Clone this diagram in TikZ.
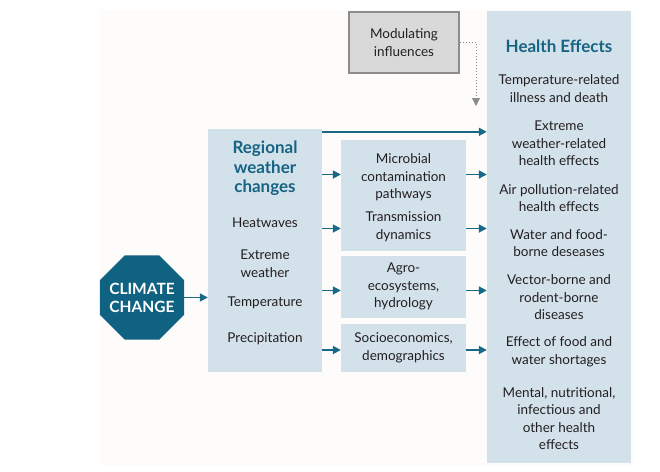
\documentclass[tikz,border=0pt]{standalone}
\usepackage{fontspec}
\setmainfont{Lato}
\usepackage{xcolor}
\usepackage{tikz}
\usetikzlibrary{shapes.geometric}
\usetikzlibrary{arrows.meta}
\definecolor{paleblue}{RGB}{211,225,235}
\definecolor{headteal}{RGB}{22,99,131}
\definecolor{arrowteal}{RGB}{24,104,136}
\definecolor{octteal}{RGB}{16,98,130}
\definecolor{inkgray}{RGB}{35,31,32}
\definecolor{modfill}{RGB}{217,217,217}
\definecolor{modline}{RGB}{140,140,140}
\definecolor{offwhite}{RGB}{253,252,250}

\begin{document}
\begin{tikzpicture}[x=1pt,y=-1pt,
    box/.style={fill=paleblue,inner sep=0pt},
    txt/.style={align=center,text=inkgray,inner sep=0pt,font=\fontsize{13.5}{17.5}\selectfont},
    head/.style={align=center,text=headteal,inner sep=0pt,font=\bfseries\fontsize{17}{19.5}\selectfont},
    arr/.style={draw=arrowteal,line width=1.7pt,-{Triangle[length=8pt,width=8pt]}}]
            \useasboundingbox (0,0) rectangle (660,471);
            \fill[offwhite] (100,10) rectangle (633,466);
            % boxes
            \node[draw=modline,line width=1.5pt,fill=modfill,minimum width=110pt,minimum height=61pt,txt] (mod) at (404,42.5) {Modulating\\influences};
            \node[box,minimum width=114pt,minimum height=243pt] (reg) at (265,250.5) {};
            \node[box,minimum width=125pt,minimum height=111pt] (mid1) at (403.5,195.5) {};
            \node[box,minimum width=125pt,minimum height=62pt] (mid2) at (403.5,287) {};
            \node[box,minimum width=125pt,minimum height=48pt] (mid3) at (403.5,348) {};
            \node[box,minimum width=144pt,minimum height=452pt] (health) at (559,237) {};
            \node[regular polygon,regular polygon sides=8,fill=octteal,minimum size=91pt,inner sep=0pt] (cc) at (142,297.5) {};
            \node[text=white,align=center,inner sep=0pt,font=\bfseries\fontsize{15.5}{18}\selectfont] (cclabel) at (cc) {CLIMATE\\CHANGE};
            % texts
            \node[head] (reghead) at (265,168.5) {Regional\\weather\\changes};
            \node[txt] (heat) at (265,223) {Heatwaves};
            \node[txt] (extr) at (265,263.5) {Extreme\\weather};
            \node[txt] (temp) at (265,303) {Temperature};
            \node[txt] (prec) at (265,339) {Precipitation};
            \node[txt] (mic) at (403.5,177.5) {Microbial\\contamination\\pathways};
            \node[txt] (trans) at (403.5,226.5) {Transmission\\dynamics};
            \node[txt] (agro) at (403.5,286.5) {Agro-\\ecosystems,\\hydrology};
            \node[txt] (socio) at (403.5,348) {Socioeconomics,\\demographics};
            \node[head] (hhead) at (559,46) {Health Effects};
            \node[txt] (h1) at (559,88.5) {Temperature-related\\illness and death};
            \node[txt] (h2) at (559,143.5) {Extreme\\weather-related\\health effects};
            \node[txt] (h3) at (559,198) {Air pollution-related\\health effects};
            \node[txt] (h4) at (559,243) {Water and food-\\borne deseases};
            \node[txt] (h5) at (559,297.5) {Vector-borne and\\rodent-borne\\diseases};
            \node[txt] (h6) at (559,352) {Effect of food and\\water shortages};
            \node[txt] (h7) at (559,418.5) {Mental, nutritional,\\infectious and\\other health\\effects};
            % arrows
            \coordinate (topstart) at ([yshift=-3pt]reg.north east);
            \coordinate (modend) at (476,106);
            \draw[arr] (topstart) -- (topstart -| health.west);
            \draw[arr] (cc.east) -- (reg.west |- cc.east);
            \draw[arr] ([yshift=3pt]reg.east |- mic) -- ([yshift=3pt]mid1.west |- mic);
            \draw[arr] ([yshift=3pt]mid1.east |- mic) -- ([yshift=3pt]health.west |- mic);
            \draw[arr] ([yshift=-2pt]reg.east |- trans) -- ([yshift=-2pt]mid1.west |- trans);
            \draw[arr] ([yshift=-2pt]mid1.east |- trans) -- ([yshift=-2pt]health.west |- trans);
            \draw[arr] ([yshift=-4pt]reg.east |- agro) -- ([yshift=-4pt]mid2.west |- agro);
            \draw[arr] ([yshift=-4pt]mid2.east |- agro) -- ([yshift=-4pt]health.west |- agro);
            \draw[arr] ([yshift=-2pt]reg.east |- socio) -- ([yshift=-2pt]mid3.west |- socio);
            \draw[arr] ([yshift=-2pt]mid3.east |- socio) -- ([yshift=-2pt]health.west |- socio);
            \draw[draw=modline,line width=1pt,dotted,-{Triangle[length=8pt,width=8pt]}] (mod.east) -| (modend);
        \end{tikzpicture}
\end{document}
